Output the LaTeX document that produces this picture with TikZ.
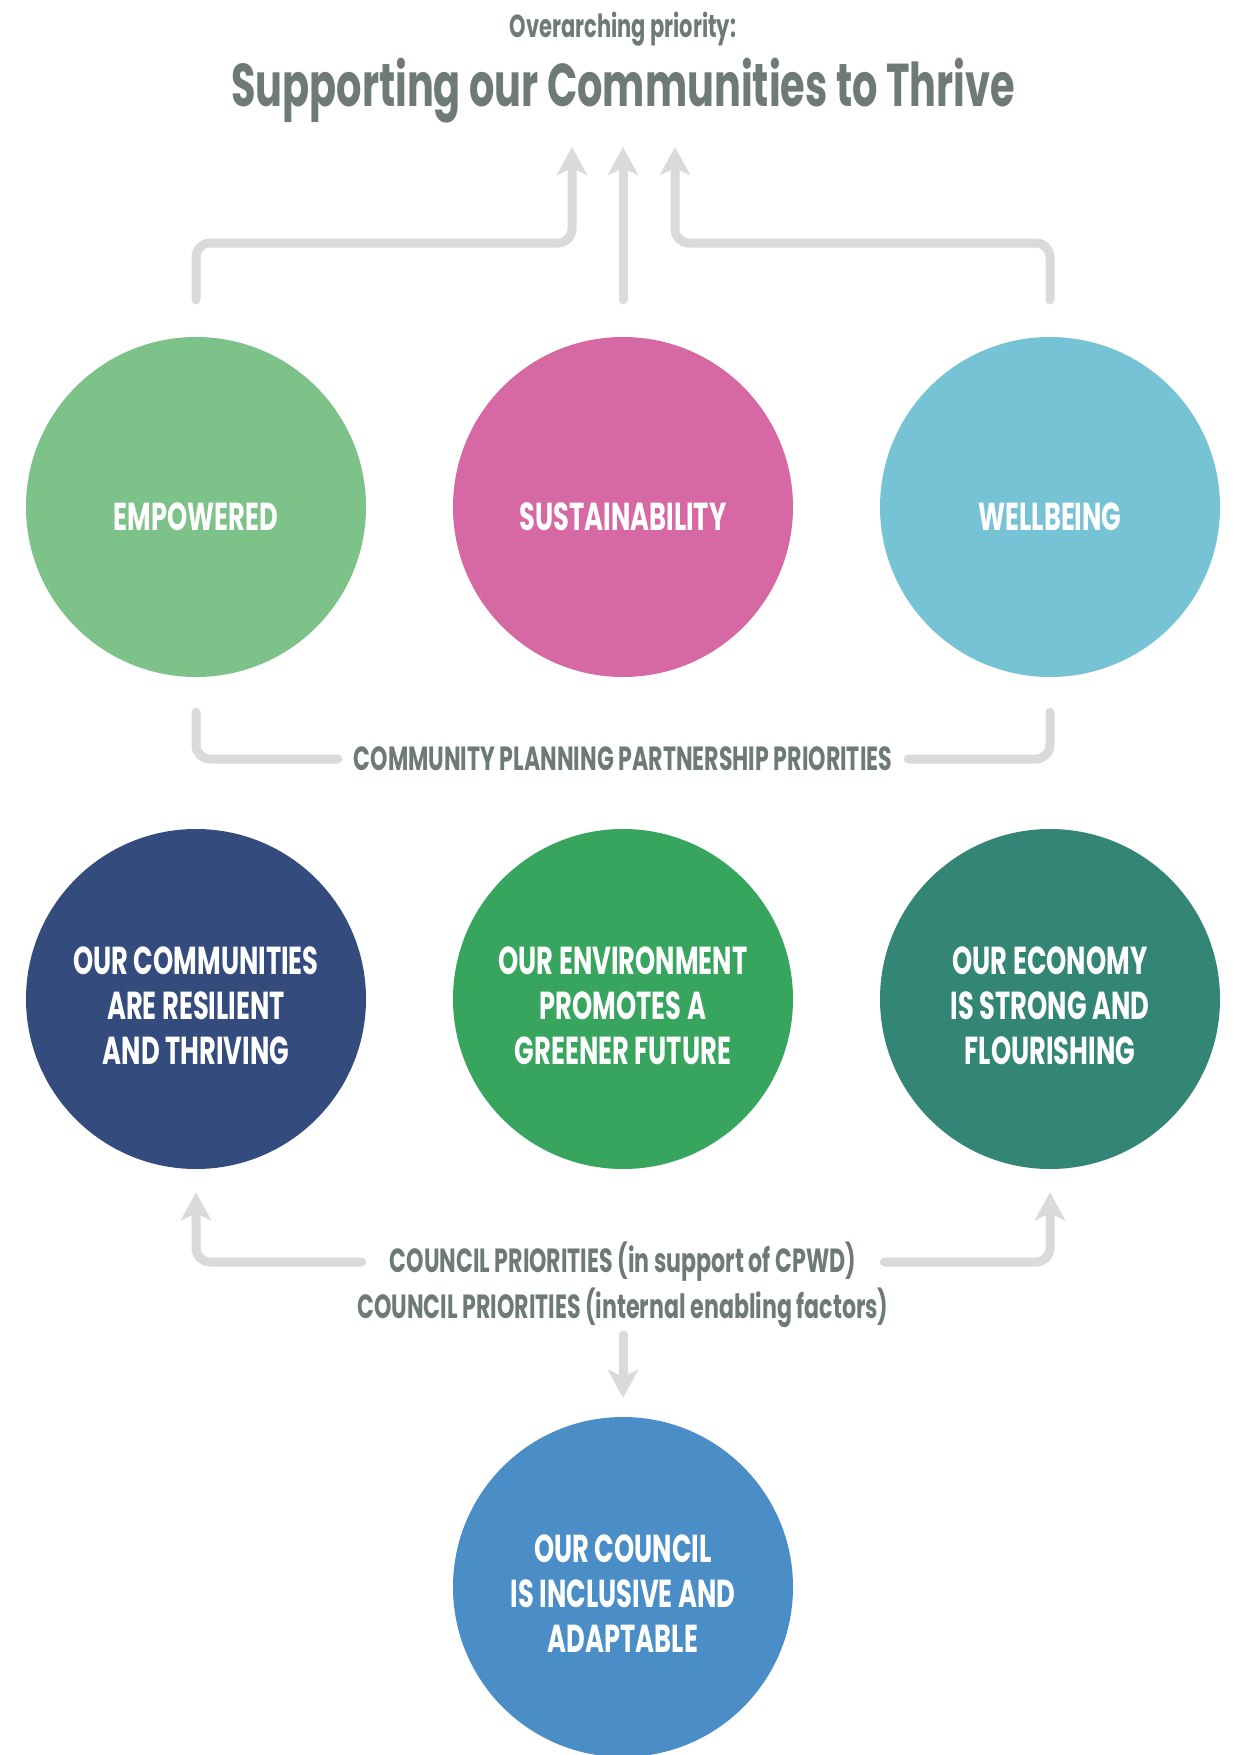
\documentclass[tikz,border=0pt]{standalone}
\usepackage{fontspec}
\setmainfont{Poppins}[FakeStretch=0.66]
\usetikzlibrary{arrows.meta}
\definecolor{txtgray}{HTML}{6E7A77}
\definecolor{conngray}{HTML}{DADADA}
\definecolor{cEmp}{HTML}{7DC288}
\definecolor{cSus}{HTML}{D668A4}
\definecolor{cWel}{HTML}{77C3D6}
\definecolor{cCom}{HTML}{344B7E}
\definecolor{cEnv}{HTML}{37A55E}
\definecolor{cEco}{HTML}{338676}
\definecolor{cCou}{HTML}{4A8DC7}
\tikzset{
  bubble/.style={circle, minimum size=340pt, inner sep=0pt},
  bubtext/.style={text=white, font=\fontsize{39}{45}\selectfont\bfseries, align=center},
  grayline/.style={text=txtgray, font=\fontsize{33.5}{36}\selectfont\bfseries, inner xsep=16pt, inner ysep=2pt},
  counline/.style={text=txtgray, font=\fontsize{33.5}{36}\selectfont\bfseries, inner xsep=28pt, inner ysep=2pt},
  conn/.style={draw=conngray, line width=9pt, line cap=round, rounded corners=14pt},
  tip/.style={-{Stealth[length=28pt,width=30pt,inset=7pt]}}
}
\begin{document}
\begin{tikzpicture}[x=1pt,y=-1pt]
\useasboundingbox (0,0) rectangle (1232,1755);
\fill[white] (0,0) rectangle (1232,1755);
% titles
\node[text=txtgray, font=\fontsize{31.8}{34}\selectfont\bfseries] (over) at (623,29) {Overarching priority:};
\node[text=txtgray, font=\fontsize{60.4}{64}\selectfont\bfseries] (title) at (623,91) {Supporting our Communities to Thrive};
% first row
\node[bubble, fill=cEmp] (c1) at (196,507) {};
\node[bubble, fill=cSus] (c2) at (623,507) {};
\node[bubble, fill=cWel] (c3) at (1050,507) {};
\node[bubtext] (l1) at (196,517) {EMPOWERED};
\node[bubtext] (l2) at (623,517) {SUSTAINABILITY};
\node[bubtext] (l3) at (1050,517) {WELLBEING};
% second row
\node[bubble, fill=cCom] (d1) at (196,999) {};
\node[bubble, fill=cEnv] (d2) at (623,999) {};
\node[bubble, fill=cEco] (d3) at (1050,999) {};
\node[bubtext] (m1) at (196,1006) {OUR COMMUNITIES\\ARE RESILIENT\\AND THRIVING};
\node[bubtext] (m2) at (623,1006) {OUR ENVIRONMENT\\PROMOTES A\\GREENER FUTURE};
\node[bubtext] (m3) at (1050,1006) {OUR ECONOMY\\IS STRONG AND\\FLOURISHING};
% bottom
\node[bubble, fill=cCou] (e) at (623,1587) {};
\node[bubtext] (n1) at (623,1594) {OUR COUNCIL\\IS INCLUSIVE AND\\ADAPTABLE};
% labels
\node[grayline] (cpp) at (623,759) {COMMUNITY PLANNING PARTNERSHIP PRIORITIES};
\node[counline] (cs) at (623,1262) {COUNCIL PRIORITIES (in support of CPWD)};
\node[counline] (ci) at (623,1308) {COUNCIL PRIORITIES (internal enabling factors)};
% top connectors
\coordinate (a1) at (572,147);
\coordinate (a2) at (623,147);
\coordinate (a3) at (675,147);
\draw[conn, tip] ([yshift=37pt]c1.north) -- (196,243) -- (572,243) -- (a1);
\draw[conn, tip] ([yshift=37pt]c2.north) -- (a2);
\draw[conn, tip] ([yshift=37pt]c3.north) -- (1050,243) -- (675,243) -- (a3);
% CPP bracket
\draw[conn] ([yshift=-35pt]c1.south) |- (cpp.west);
\draw[conn] ([yshift=-35pt]c3.south) |- (cpp.east);
% council bracket
\draw[conn, tip] (cs.west) -| ([yshift=-23pt]d1.south);
\draw[conn, tip] (cs.east) -| ([yshift=-23pt]d3.south);
\draw[conn, tip] ([yshift=-5pt]ci.south) -- ([yshift=19pt]e.north);
\end{tikzpicture}
\end{document}
